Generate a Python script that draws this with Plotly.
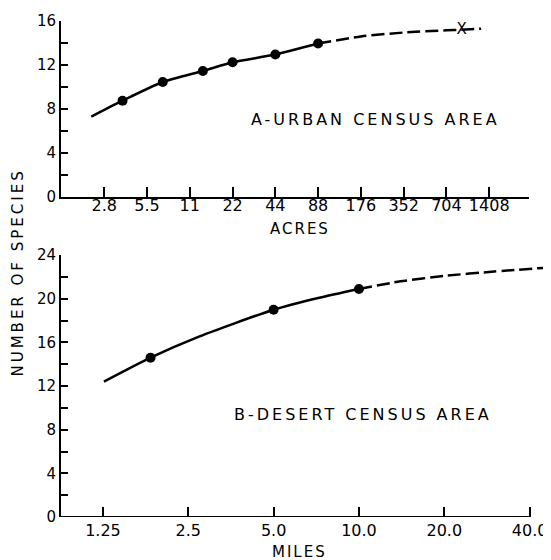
import numpy as np
import plotly.graph_objects as go

# ---- Panel A: urban census area (acres) ----
acre_ticks = [2.75, 5.5, 11, 22, 44, 88, 176, 352, 704, 1408]
acre_labels = ["2.8", "5.5", "11", "22", "44", "88", "176", "352", "704", "1408"]
a_pts_x = [3.7, 7.1, 13.6, 22, 44, 88]
a_pts_y = [8.75, 10.45, 11.45, 12.25, 12.95, 13.95]
a_curve_x = [2.23, 3.7, 7.1, 13.6, 22, 44, 88]
a_curve_y = [7.3, 8.75, 10.45, 11.45, 12.25, 12.95, 13.95]
a_ext_x = [88, 176, 352, 704, 900, 1235]
a_ext_y = [13.95, 14.6, 14.95, 15.15, 15.2, 15.3]
a_mark_x = [900]
a_mark_y = [15.2]

# ---- Panel B: desert census area (miles) ----
mile_ticks = [1.25, 2.5, 5.0, 10.0, 20.0, 40.0]
mile_labels = ["1.25", "2.5", "5.0", "10.0", "20.0", "40.0"]
b_pts_x = [1.84, 5.0, 10.0]
b_pts_y = [14.6, 19.0, 20.9]
b_curve_x = [1.26, 1.84, 2.74, 5.0, 7.25, 10.0]
b_curve_y = [12.4, 14.6, 16.55, 19.0, 20.1, 20.9]
b_ext_x = [10.0, 14.0, 20.0, 30.0, 45.7]
b_ext_y = [20.9, 21.6, 22.1, 22.5, 22.85]

a_yticks = list(range(0, 17, 2))
b_yticks = list(range(0, 25, 2))
a_ylabels = [str(v) if v % 4 == 0 else "" for v in a_yticks]
b_ylabels = [str(v) if v % 4 == 0 else "" for v in b_yticks]

FONT = "DejaVu Sans"
LW = 2.5
SM = 0.6

fig = go.Figure()
# panel A
fig.add_trace(go.Scatter(x=a_curve_x, y=a_curve_y, mode="lines",
                         line=dict(color="black", width=LW, shape="spline", smoothing=SM),
                         xaxis="x", yaxis="y", showlegend=False))
fig.add_trace(go.Scatter(x=a_ext_x, y=a_ext_y, mode="lines",
                         line=dict(color="black", width=LW, shape="spline", smoothing=SM, dash="13px,5px"),
                         xaxis="x", yaxis="y", showlegend=False))
fig.add_trace(go.Scatter(x=a_pts_x, y=a_pts_y, mode="markers", marker=dict(color="black", size=10),
                         xaxis="x", yaxis="y", showlegend=False))
fig.add_trace(go.Scatter(x=a_mark_x, y=a_mark_y, mode="text", text=["X"],
                         textfont=dict(family=FONT, size=15, color="black"),
                         xaxis="x", yaxis="y", showlegend=False))
# panel B
fig.add_trace(go.Scatter(x=b_curve_x, y=b_curve_y, mode="lines",
                         line=dict(color="black", width=LW, shape="spline", smoothing=SM),
                         xaxis="x2", yaxis="y2", showlegend=False))
fig.add_trace(go.Scatter(x=b_ext_x, y=b_ext_y, mode="lines",
                         line=dict(color="black", width=LW, shape="spline", smoothing=SM, dash="13px,5px"),
                         xaxis="x2", yaxis="y2", showlegend=False))
fig.add_trace(go.Scatter(x=b_pts_x, y=b_pts_y, mode="markers", marker=dict(color="black", size=10),
                         xaxis="x2", yaxis="y2", showlegend=False))

# page body has an 8px margin: the figure is offset by 8px right and down
OFF = 8
L, R, T, B = 61, 4, 15, 43          # plot area in page pixels
W, H = 551, 560
PW, PH = W - L - R, H - T - B       # 486 x 502


def px(x):
    return (x - L) / PW


def py(y):
    return (H - B - y) / PH


axis_common = dict(showgrid=False, zeroline=False, showline=True, linecolor="black", linewidth=2,
                   ticks="inside", tickcolor="black", tickwidth=2)

fig.update_layout(
    width=W - OFF, height=H - OFF, margin=dict(l=L - OFF, r=R, t=T - OFF, b=B),
    paper_bgcolor="white", plot_bgcolor="white",
    font=dict(family=FONT, color="black"),
    xaxis=dict(type="log", domain=[0, px(530)], anchor="y",
               range=[np.log10(1.365), np.log10(2684)],
               tickvals=acre_ticks, ticktext=acre_labels, ticklen=10, ticklabelstandoff=-7,
               tickfont=dict(size=16), **axis_common),
    yaxis=dict(domain=[py(193), 1], anchor="x", range=[0, 16],
               tickvals=a_yticks, ticktext=a_ylabels, ticklen=7,
               tickfont=dict(size=15), **axis_common),
    xaxis2=dict(type="log", domain=[0, 1], anchor="y2",
                range=[np.log10(0.889), np.log10(45.7)],
                tickvals=mile_ticks, ticktext=mile_labels, ticklen=10, ticklabelstandoff=2,
                tickfont=dict(size=16),
                **{**axis_common, "showline": False}),
    yaxis2=dict(domain=[0, py(252)], anchor="x2", range=[0, 24],
                tickvals=b_yticks, ticktext=b_ylabels, ticklen=7,
                tickfont=dict(size=15), **axis_common),
)

# bottom x axis line ends at the 40.0 tick
fig.add_shape(type="line", xref="x2", yref="y2", x0=0.889, x1=mile_ticks[-1], y0=0, y1=0,
              line=dict(color="black", width=2))

ann = dict(xref="paper", yref="paper", showarrow=False, xanchor="center", yanchor="middle")
LS = "letter-spacing:3px"
fig.add_annotation(text=f'<span style="{LS}">A-URBAN CENSUS AREA</span>',
                   x=px(376), y=py(115), font=dict(size=16), **ann)
fig.add_annotation(text=f'<span style="{LS}">B-DESERT CENSUS AREA</span>',
                   x=px(364), y=py(413), font=dict(size=16), **ann)
fig.add_annotation(text='<span style="letter-spacing:2px">ACRES</span>',
                   x=px(300), y=py(226), font=dict(size=15), **ann)
fig.add_annotation(text='<span style="letter-spacing:2px">MILES</span>',
                   x=px(300), y=py(552), font=dict(size=15), **ann)
fig.add_annotation(text='<span style="letter-spacing:3px">NUMBER OF SPECIES</span>',
                   x=px(17.5), y=py(270), textangle=-90, font=dict(size=15), **ann)

fig.write_html("out.html")
